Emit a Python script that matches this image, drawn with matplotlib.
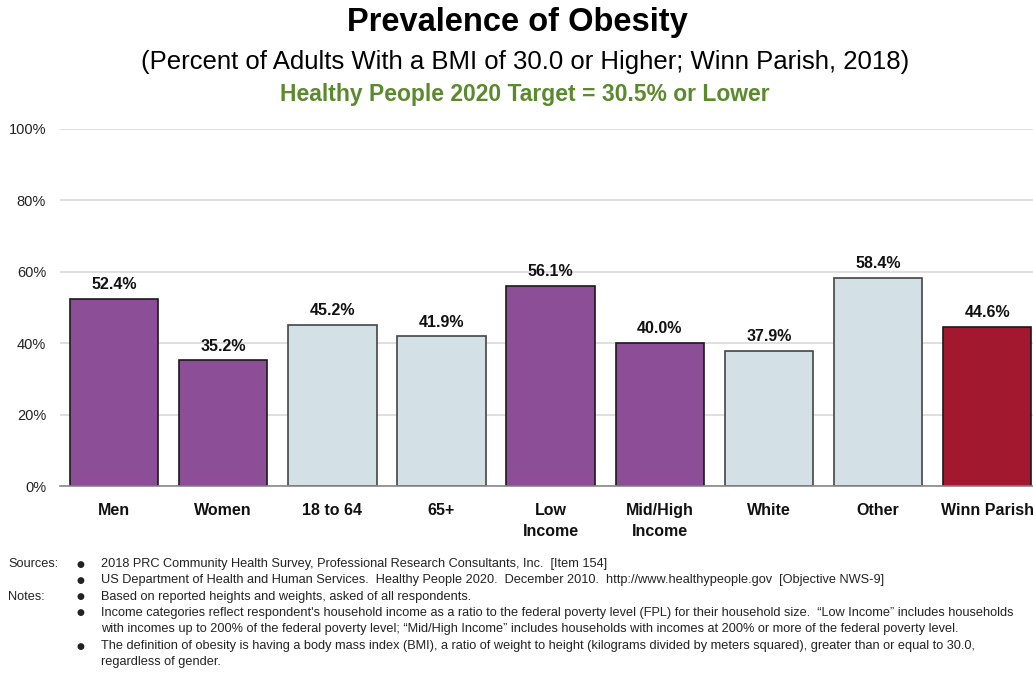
import matplotlib.pyplot as plt
from matplotlib import font_manager

# data
categories = ["Men", "Women", "18 to 64", "65+", "Low\nIncome", "Mid/High\nIncome",
              "White", "Other", "Winn Parish"]
values = [52.4, 35.2, 45.2, 41.9, 56.1, 40.0, 37.9, 58.4, 44.6]
groups = ["sub", "sub", "age", "age", "sub", "sub", "age", "age", "total"]
yticks = [0, 20, 40, 60, 80, 100]

colors = {"sub": "#8C4F97", "age": "#D3E0E5", "total": "#A2192F"}
edges = {"sub": "#1a1a1a", "age": "#444444", "total": "#1a1a1a"}

names = {f.name for f in font_manager.fontManager.ttflist}
fam = "Liberation Sans Narrow" if "Liberation Sans Narrow" in names else "Liberation Sans"
plt.rcParams['font.family'] = [fam, 'DejaVu Sans']

W, H = 1033, 677
fig = plt.figure(figsize=(W / 100, H / 100), dpi=100)
ax = fig.add_axes([60 / W, 1 - 486 / H, (W - 60) / W, (486 - 129) / H])

x = range(len(categories))
ax.bar(x, values, width=0.81,
       color=[colors[g] for g in groups],
       edgecolor=[edges[g] for g in groups], linewidth=1.2, zorder=3)

for i, v in enumerate(values):
    ax.text(i, v + 1.9, f"{v:.1f}%", ha="center", va="bottom",
            fontsize=11.5, fontweight="bold", color="#111111", zorder=4)

ax.set_ylim(0, 100)
ax.set_xlim(-0.495, 8.42)
ax.set_yticks(yticks)
ax.set_yticklabels([f"{t}%" for t in yticks], fontsize=10.5, color="#222222")
ax.set_xticks(list(x))
ax.set_xticklabels(categories, fontsize=11.5, fontweight="bold", color="#111111",
                   va="top", linespacing=1.5)
ax.tick_params(axis="y", length=0, pad=10)
ax.tick_params(axis="x", length=0, pad=12)
ax.grid(axis="y", color="#d9d9d9", linewidth=1.2, zorder=0)
for s in ["top", "right", "left"]:
    ax.spines[s].set_visible(False)
ax.spines["bottom"].set_color("#888888")
ax.spines["bottom"].set_linewidth(1.2)
ax.spines["bottom"].set_zorder(5)

# titles
fig.text(517 / W, 1 - 22 / H, "Prevalence of Obesity", ha="center", va="center",
         fontsize=23.5, fontweight="bold", color="black")
fig.text(525 / W, 1 - 62 / H,
         "(Percent of Adults With a BMI of 30.0 or Higher; Winn Parish, 2018)",
         ha="center", va="center", fontsize=18.5, color="black")
fig.text(525 / W, 1 - 95 / H, "Healthy People 2020 Target = 30.5% or Lower",
         ha="center", va="center", fontsize=16.5, fontweight="bold", color="#5B8A2D")

# footer notes
fs = 9.2
lines = [
    (564, "Sources:", "2018 PRC Community Health Survey, Professional Research Consultants, Inc.  [Item 154]"),
    (580, None, "US Department of Health and Human Services.  Healthy People 2020.  December 2010.  http://www.healthypeople.gov  [Objective NWS-9]"),
    (597, "Notes:", "Based on reported heights and weights, asked of all respondents."),
    (613, None, "Income categories reflect respondent's household income as a ratio to the federal poverty level (FPL) for their household size.  \u201cLow Income\u201d includes households"),
    (629, "", "with incomes up to 200% of the federal poverty level; \u201cMid/High Income\u201d includes households with incomes at 200% or more of the federal poverty level."),
    (646, None, "The definition of obesity is having a body mass index (BMI), a ratio of weight to height (kilograms divided by meters squared), greater than or equal to 30.0,"),
    (662, "", "regardless of gender."),
]
for y, lab, txt in lines:
    if lab:
        fig.text(8 / W, 1 - y / H, lab, ha="left", va="center", fontsize=fs, color="#222222")
    if lab is None or lab:
        fig.text(80 / W, 1 - y / H, "\u25cf", ha="center", va="center", fontsize=6.5,
                 color="#222222", family="DejaVu Sans")
    fig.text(101 / W, 1 - y / H, txt, ha="left", va="center", fontsize=fs, color="#222222")

fig.savefig("out.png", dpi=100)
